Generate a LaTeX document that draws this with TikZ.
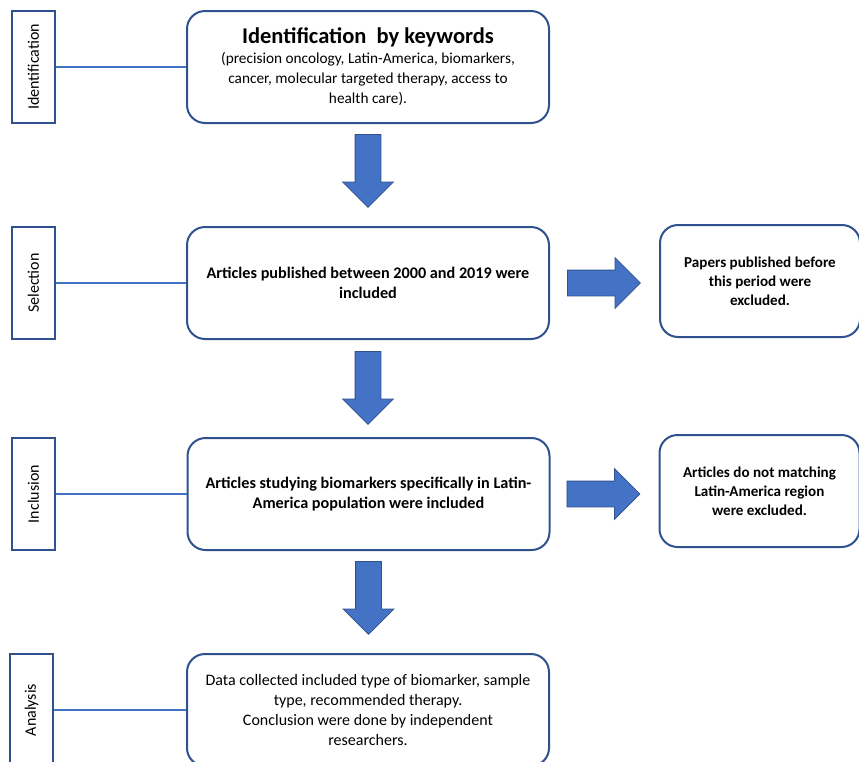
\documentclass[tikz,border=0pt]{standalone}
\usepackage{fontspec}
\setmainfont{Carlito}
\usepackage{xcolor}
\usetikzlibrary{shapes.arrows,positioning,calc}

\definecolor{boxblue}{HTML}{2F528F}
\definecolor{fillblue}{HTML}{4472C4}

\begin{document}
\begin{tikzpicture}[x=1pt,y=-1pt]
		\tikzstyle{mainbox}=[draw=boxblue, line width=2pt, rounded corners=18pt, minimum width=362pt, minimum height=112pt, align=center, font=\fontsize{16}{19.7}\selectfont]
		\tikzstyle{boldbox}=[mainbox, font=\fontsize{16.2}{20}\selectfont\bfseries]
		\tikzstyle{sidebox}=[boldbox, minimum width=200pt, font=\fontsize{15.1}{19}\selectfont\bfseries]
		\tikzstyle{stagebox}=[draw=boxblue, line width=2.4pt, rotate=90, minimum width=112pt, minimum height=43pt, inner sep=0pt, font=\fontsize{16}{18}\selectfont]
		\tikzstyle{link}=[draw=fillblue, line width=1.6pt]
		\tikzstyle{blockarrow}=[single arrow, draw=boxblue, line width=0.8pt, fill=fillblue, minimum height=73pt, minimum width=50pt, inner xsep=0pt, inner ysep=12.5pt, single arrow head extend=12.5pt, single arrow tip angle=90, anchor=tail]

		\useasboundingbox (0,0) rectangle (859,761);

		% main column
		\node [mainbox, font=\fontsize{15.3}{20}\selectfont] (ident) at (368,67) {\fontsize{22.5}{26}\selectfont\bfseries Identification\ \ by keywords\\
			(precision oncology, Latin-America, biomarkers,\\ cancer, molecular targeted therapy, access to\\ health care).};
		\node [boldbox] (sel) at (368,283) {Articles published between 2000 and 2019 were\\ included};
		\node [boldbox] (incl) at (368.5,494) {Articles studying biomarkers specifically in Latin-\\America population were included};
		\node [mainbox] (anal) at (368,710) {Data collected included type of biomarker, sample\\ type, recommended therapy.\\ Conclusion were done by independent\\ researchers.};

		% stage labels
		\node [stagebox] (identlab) at (33.5,67) {Identification};
		\node [stagebox] (sellab) at (33.5,283) {Selection};
		\node [stagebox] (incllab) at (33.5,494) {Inclusion};
		\node [stagebox] (anallab) at (31.5,710) {Analysis};

		\draw [link] (identlab) -- (ident);
		\draw [link] (sellab) -- (sel);
		\draw [link] (incllab) -- (incl);
		\draw [link] (anallab) -- (anal);

		% excluded
		\node [sidebox] (selout) [right=109pt of sel, yshift=2pt] {Papers published before\\ this period were\\ excluded.};
		\node [sidebox] (inclout) [right=108pt of incl, yshift=3pt] {Articles do not matching\\ Latin-America region\\ were excluded.};

		% block arrows
		\node [blockarrow, rotate=-90] (down1) at ($(ident.south)+(0,10)$) {};
		\node [blockarrow, rotate=-90] (down2) at ($(sel.south)+(0,11)$) {};
		\node [blockarrow, rotate=-90] (down3) at ($(incl.south)+(0,10)$) {};
		\node [blockarrow] (right1) at ($(sel.east)+(17,0)$) {};
		\node [blockarrow] (right2) at ($(incl.east)+(16,0)$) {};

	\end{tikzpicture}
\end{document}
